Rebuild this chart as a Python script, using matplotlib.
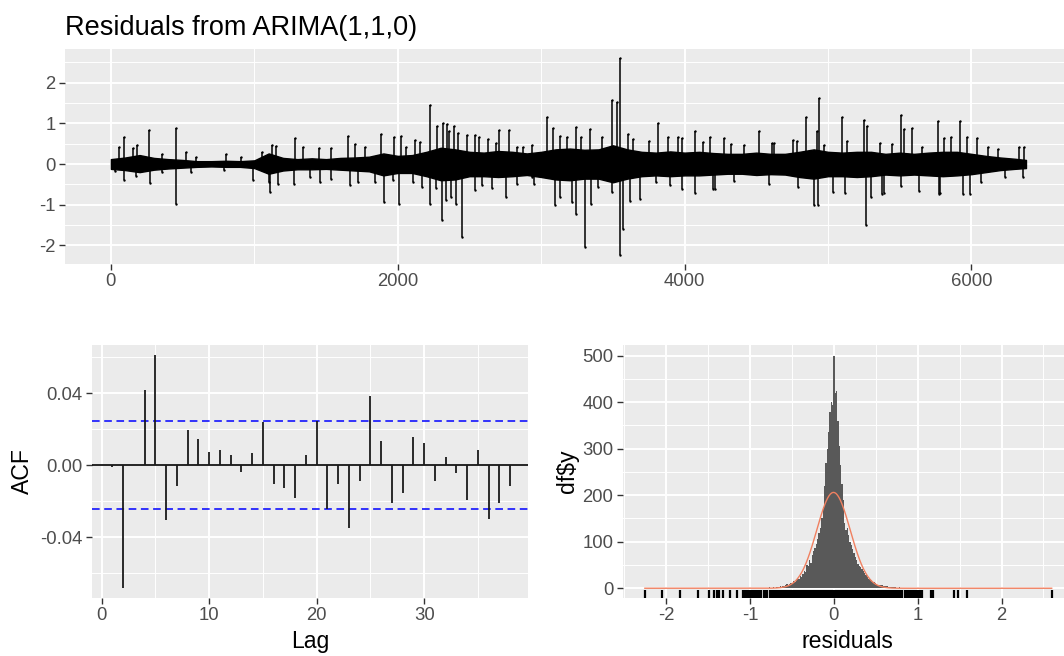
import numpy as np
import matplotlib
matplotlib.use("Agg")
import matplotlib.pyplot as plt
from matplotlib.ticker import FixedLocator

plt.rcParams['font.family'] = ['Liberation Sans', 'DejaVu Sans']

# ---- residual series ----
n_obs = 6380
# envelope of the dense core, every 100 observations
band_idx = [0, 100, 200, 300, 400, 500, 600, 700, 800, 900, 1000, 1100, 1200, 1300, 1400, 1500,
            1600, 1700, 1800, 1900, 2000, 2100, 2200, 2300, 2400, 2500, 2600, 2700, 2800, 2900,
            3000, 3100, 3200, 3300, 3400, 3500, 3600, 3700, 3800, 3900, 4000, 4100, 4200, 4300,
            4400, 4500, 4600, 4700, 4800, 4900, 5000, 5100, 5200, 5300, 5400, 5500, 5600, 5700,
            5800, 5900, 6000, 6100, 6200, 6300, 6380]
band_hi = [0.12, 0.16, 0.22, 0.15, 0.12, 0.1, 0.07, 0.07, 0.08, 0.07, 0.09, 0.26, 0.15, 0.12,
           0.14, 0.12, 0.15, 0.16, 0.18, 0.26, 0.2, 0.22, 0.3, 0.4, 0.36, 0.3, 0.28, 0.32, 0.3,
           0.26, 0.3, 0.36, 0.38, 0.35, 0.36, 0.46, 0.36, 0.3, 0.28, 0.31, 0.28, 0.3, 0.27, 0.25,
           0.25, 0.28, 0.25, 0.25, 0.3, 0.36, 0.3, 0.28, 0.3, 0.3, 0.25, 0.28, 0.25, 0.28, 0.3,
           0.3, 0.25, 0.2, 0.16, 0.13, 0.1]
band_lo = [-0.12, -0.15, -0.2, -0.14, -0.11, -0.09, -0.07, -0.06, -0.07, -0.07, -0.1, -0.24,
           -0.16, -0.13, -0.13, -0.12, -0.14, -0.16, -0.18, -0.28, -0.22, -0.22, -0.3, -0.4,
           -0.38, -0.3, -0.3, -0.32, -0.3, -0.27, -0.32, -0.38, -0.4, -0.36, -0.36, -0.45, -0.36,
           -0.3, -0.28, -0.3, -0.28, -0.28, -0.26, -0.24, -0.24, -0.27, -0.25, -0.26, -0.32,
           -0.36, -0.3, -0.3, -0.32, -0.3, -0.26, -0.28, -0.26, -0.28, -0.3, -0.28, -0.25, -0.2,
           -0.15, -0.12, -0.1]
# individual spikes (index, value)
spike_idx = [91, 182, 266, 451, 523, 800, 1124, 1287, 1448, 1652, 1700, 1880, 1976, 2024, 2156,
             2228, 2271, 2312, 2343, 2391, 2420, 2480, 2564, 2631, 2708, 2775, 2876,
             91, 276, 451, 560, 992, 1107, 1167, 1280, 1460, 1664, 1844, 1904, 2012, 2228, 2307,
             2336, 2408, 2449, 2540, 2756, 2948,
             3040, 3084, 3241, 3338, 3496, 3532, 3549, 3605, 3811, 3884, 4070, 4175, 4272, 4521,
             4623, 4756, 4848, 4938, 4921, 5096, 5253, 5273, 5508, 5588, 5767, 5920, 6041, 6332,
             6368,
             3096, 3241, 3302, 3350, 3549, 3568, 3690, 3901, 4070, 4211, 4902, 4933, 5265, 5302,
             5375, 5636, 5779, 5993, 6356,
             3133, 3181, 3278, 3423, 3641, 3750, 3956, 3981, 4126, 4320, 4417, 4611, 4781, 4975,
             5132, 5362, 5447, 5532, 5653, 5811, 5859, 5968, 6114, 6187,
             2938, 3133, 3217, 3399, 3496, 3617, 3799, 3981, 4199, 4344, 4587, 4793, 5035, 5120,
             5387, 5508, 5775, 5944, 6065, 6235,
             55, 151, 355, 595, 908, 1052, 1148, 1340, 1532, 1772, 2060, 2120, 2360, 2540, 2684,
             2828, 2936,
             31, 175, 355, 787, 1100, 1388, 1532, 1724, 1964, 2108, 2168, 2264, 2372, 2588, 2660,
             2828]
spike_val = [0.66, 0.47, 0.84, 0.89, 0.3, 0.24, 0.47, 0.64, 0.39, 0.68, 0.5, 0.74, 0.66, 0.68,
             0.55, 1.46, 0.93, 1.0, 0.99, 0.94, 0.76, 0.72, 0.66, 0.61, 0.84, 0.84, 0.43,
             -0.4, -0.46, -0.99, -0.19, -0.4, -0.69, -0.5, -0.5, -0.44, -0.52, -0.44, -0.93,
             -0.99, -0.99, -1.39, -0.89, -0.99, -1.8, -0.64, -0.81, -0.5,
             1.16, 0.88, 0.9, 0.86, 1.58, 1.52, 2.61, 0.74, 1.01, 0.66, 0.82, 0.66, 0.64, 0.8,
             0.51, 0.59, 1.16, 1.62, 0.82, 1.16, 1.08, 0.94, 1.2, 0.88, 1.05, 1.07, 0.64, 0.43,
             0.41,
             -1.02, -1.23, -2.03, -0.98, -2.25, -1.6, -0.86, -0.51, -0.72, -0.61, -1.02, -1.0,
             -1.49, -0.82, -0.75, -0.66, -0.72, -0.75, -0.31,
             0.7, 0.66, 0.66, 0.66, 0.61, 0.57, 0.66, 0.64, 0.53, 0.49, 0.48, 0.51, 0.57, 0.48,
             0.57, 0.51, 0.49, 0.86, 0.41, 0.64, 0.66, 0.66, 0.41, 0.37,
             -0.33, -0.82, -0.94, -0.57, -0.7, -0.9, -0.45, -0.61, -0.61, -0.41, -0.48, -0.57,
             -0.7, -0.72, -0.72, -0.53, -0.74, -0.74, -0.45, -0.33,
             0.43, 0.39, 0.25, 0.18, 0.18, 0.3, 0.45, 0.43, 0.39, 0.43, 0.43, 0.6, 0.8, 0.72,
             0.51, 0.43, 0.47,
             -0.17, -0.3, -0.19, -0.15, -0.44, -0.31, -0.36, -0.44, -0.4, -0.44, -0.56, -0.6,
             -0.81, -0.52, -0.6, -0.48]

# ---- ACF ----
acf_lag = list(range(1, 39))
acf_val = [-0.001, -0.0685, 0.0, 0.0419, 0.061, -0.0307, -0.0115, 0.0195, 0.0143, 0.0074,
           0.0084, 0.0056, -0.0037, 0.0065, 0.0238, -0.0108, -0.0125, -0.0186, 0.0056, 0.0247,
           -0.0242, -0.0108, -0.035, -0.0089, 0.0385, 0.0136, -0.021, -0.0153, 0.0153, 0.0125,
           -0.0089, 0.0047, -0.0047, -0.0195, 0.0084, -0.0298, -0.021, -0.0115]
acf_ci = 0.0243

# ---- histogram of residuals ----
bin_width = 0.016
bin_k = list(range(-65, 67))
bin_count = [1, 1, 1, 1, 1, 1, 1, 1, 1, 1,
             0, 1, 0, 1, 1, 1, 0, 2, 1, 1,
             2, 1, 2, 3, 2, 4, 3, 5, 4, 6,
             9, 7, 10, 12, 11, 16, 14, 18, 21, 19,
             27, 24, 31, 38, 35, 50, 47, 60, 55, 72,
             80, 86, 95, 105, 118, 130, 150, 175, 220, 270,
             300, 335, 380, 400, 395,
             500,
             420, 425, 360, 305, 265, 225, 190, 140, 125, 130,
             115, 100, 92, 85, 76, 68, 60, 52, 48, 45,
             41, 38, 33, 28, 24, 20, 19, 17, 14, 13,
             11, 9, 8, 7, 6, 6, 5, 5, 4, 4,
             3, 3, 2, 3, 2, 2, 1, 1, 2, 1,
             1, 0, 1, 1, 1, 1, 1, 1, 1, 1, 1, 1, 1, 1, 1, 1]
tail_vals = [-2.255, -2.056, -1.83, -1.62, -1.488, -1.432, -1.40, -1.368, -1.328, -1.241, -1.161,
             -1.09, -1.062, 1.154, 1.185, 1.432, 1.476, 1.583, 2.598]
norm_mean = -0.005
norm_sd = 0.2
norm_peak = 206

TICKC = '#333333'
LABC = '#4D4D4D'


def style(ax):
    ax.set_facecolor('#EBEBEB')
    for s in ax.spines.values():
        s.set_visible(False)
    ax.grid(True, which='major', color='white', linewidth=1.4)
    ax.grid(True, which='minor', color='white', linewidth=0.7)
    ax.set_axisbelow(True)
    ax.tick_params(which='major', length=4.3, width=1.0, color=TICKC, labelcolor=LABC,
                   labelsize=13.3, pad=2.5)
    ax.tick_params(which='minor', length=0)


fig = plt.figure(figsize=(10.64, 6.56), dpi=100)

# top: residual series
ax1 = fig.add_axes([0.0611, 0.5976, 0.949, 0.3277])
style(ax1)
ax1.fill_between(band_idx, band_lo, band_hi, color='black', linewidth=1.0)
ax1.vlines(spike_idx, 0, spike_val, color='black', linewidth=1.1)
ax1.scatter(spike_idx, spike_val, s=3, color='black', marker='o', linewidths=0)
ax1.set_xlim(-320, 6720)
ax1.set_ylim(-2.46, 2.83)
ax1.set_xticks([0, 2000, 4000, 6000])
ax1.set_xticklabels(['0', '2000', '4000', '6000'])
ax1.set_yticks([-2, -1, 0, 1, 2])
ax1.set_yticklabels(['-2', '-1', '0', '1', '2'])
ax1.xaxis.set_minor_locator(FixedLocator([1000, 3000, 5000]))
ax1.yaxis.set_minor_locator(FixedLocator([-2.5, -1.5, -0.5, 0.5, 1.5, 2.5]))
fig.text(65 / 1064, 1 - 28 / 656, 'Residuals from ARIMA(1,1,0)', fontsize=19.5,
         ha='left', va='center', color='black')

# bottom left: ACF
ax2 = fig.add_axes([0.0862, 0.0884, 0.41, 0.3857])
style(ax2)
ax2.axhline(0, color='black', linewidth=1.2)
ax2.axhline(acf_ci, color='blue', linewidth=1.1, dashes=(5, 3))
ax2.axhline(-acf_ci, color='blue', linewidth=1.1, dashes=(5, 3))
ax2.vlines(acf_lag, 0, acf_val, color='#1a1a1a', linewidth=1.3)
ax2.set_xlim(-0.93, 39.66)
ax2.set_ylim(-0.0739, 0.0667)
ax2.set_xticks([0, 10, 20, 30])
ax2.set_xticklabels(['0', '10', '20', '30'])
ax2.set_yticks([-0.04, 0.0, 0.04])
ax2.set_yticklabels(['-0.04', '0.00', '0.04'])
ax2.xaxis.set_minor_locator(FixedLocator([5, 15, 25, 35]))
ax2.yaxis.set_minor_locator(FixedLocator([-0.06, -0.02, 0.02, 0.06]))
ax2.set_xlabel('Lag', fontsize=16.6, labelpad=4)
ax2.set_ylabel('ACF', fontsize=16.6, labelpad=4)

# bottom right: histogram
ax3 = fig.add_axes([0.5852, 0.0884, 0.4223, 0.3857])
style(ax3)
centers = np.array(bin_k) * bin_width
ax3.bar(centers, bin_count, width=bin_width, color='#595959', linewidth=0)
xs = np.linspace(min(tail_vals), max(tail_vals), 600)
ax3.plot(xs, norm_peak * np.exp(-0.5 * ((xs - norm_mean) / norm_sd) ** 2),
         color='#F08060', linewidth=1.0)
rug = list(centers[np.array(bin_count) > 0]) + tail_vals
ax3.vlines(rug, -21, -21 + 0.03 * 544, color='black', linewidth=1.6)
ax3.set_xlim(-2.52, 2.84)
ax3.set_ylim(-21, 523)
ax3.set_xticks([-2, -1, 0, 1, 2])
ax3.set_xticklabels(['-2', '-1', '0', '1', '2'])
ax3.set_yticks([0, 100, 200, 300, 400, 500])
ax3.xaxis.set_minor_locator(FixedLocator([-2.5, -1.5, -0.5, 0.5, 1.5, 2.5]))
ax3.yaxis.set_minor_locator(FixedLocator([50, 150, 250, 350, 450]))
ax3.set_xlabel('residuals', fontsize=16.6, labelpad=4)
ax3.set_ylabel('df\\$y', fontsize=16.6, labelpad=2)

fig.savefig('out.png', dpi=100)
